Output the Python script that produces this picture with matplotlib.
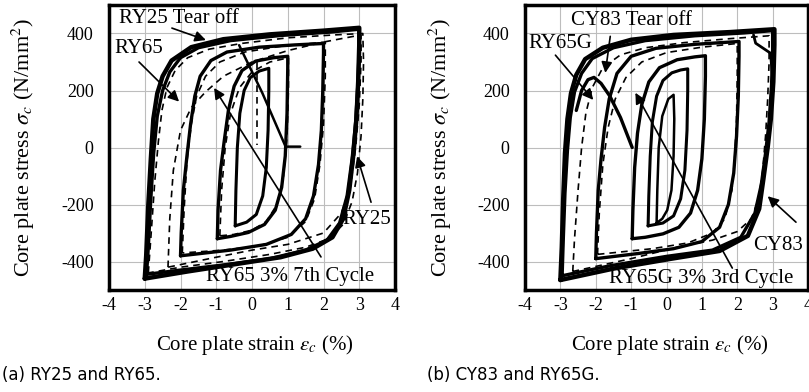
import matplotlib.pyplot as plt

plt.rcParams['font.family'] = ['Liberation Serif', 'DejaVu Serif']
plt.rcParams['mathtext.fontset'] = 'stix'
plt.rcParams['axes.unicode_minus'] = False

# ---------------------------------------------------------------
# (a) RY25 (solid) and RY65 (dashed) loops, strain % / stress N/mm2
# ---------------------------------------------------------------
ry25_3_x = [-3.0, -2.96, -2.9, -2.83, -2.76, -2.65, -2.5, -2.25, -1.7, -0.8, 0.5, 2.0, 3.0,
            3.0, 2.97, 2.92, 2.84, 2.72, 2.55, 2.25, 1.7, 0.8, -0.5, -1.8, -3.0]
ry25_3_y = [-460, -380, -200, -40, 100, 190, 250, 305, 352, 380, 397, 410, 420,
            360, 230, 100, -20, -150, -250, -315, -355, -385, -410, -435, -460]
ry25_3b_x = [-2.95, -2.9, -2.83, -2.75, -2.65, -2.5, -2.3, -2.0, -1.5, -0.6, 0.8, 2.2, 3.0,
             3.0, 2.96, 2.9, 2.8, 2.66, 2.45, 2.1, 1.5, 0.5, -0.8, -2.0, -2.95]
ry25_3b_y = [-445, -350, -180, -20, 110, 200, 265, 315, 350, 375, 393, 405, 415,
             350, 220, 90, -40, -170, -265, -325, -360, -390, -412, -430, -445]
ry25_2_x = [-2.0, -1.98, -1.92, -1.82, -1.72, -1.6, -1.45, -1.15, -0.7, 0.2, 1.2, 2.0,
            2.0, 1.98, 1.94, 1.86, 1.72, 1.5, 1.1, 0.4, -0.6, -1.3, -2.0]
ry25_2_y = [-380, -300, -150, -30, 80, 180, 250, 305, 335, 352, 360, 365,
            330, 200, 60, -60, -170, -250, -305, -340, -360, -370, -380]
ry25_1_x = [-0.97, -0.95, -0.88, -0.78, -0.66, -0.5, -0.28, 0.1, 0.6, 1.0,
            1.0, 0.98, 0.93, 0.83, 0.65, 0.35, -0.1, -0.6, -0.97]
ry25_1_y = [-320, -220, -80, 20, 130, 215, 270, 303, 315, 320,
            280, 120, -30, -140, -220, -270, -298, -312, -320]
ry25_05_x = [-0.47, -0.45, -0.41, -0.34, -0.22, -0.05, 0.2, 0.47,
             0.47, 0.45, 0.4, 0.3, 0.12, -0.15, -0.47]
ry25_05_y = [-275, -150, 0, 120, 200, 245, 268, 278,
             200, 60, -70, -170, -235, -262, -275]
ry25_tear_x = [-0.36, 0.29, 0.94, 1.35]
ry25_tear_y = [359, 191, 3, 3]

ry65_3_x = [-2.9, -2.82, -2.72, -2.62, -2.52, -2.38, -2.15, -1.8, -1.2, -0.3, 1.0, 2.3, 3.1,
            3.12, 3.1, 3.05, 2.95, 2.8, 2.55, 2.15, 1.5, 0.5, -0.8, -2.0, -2.9]
ry65_3_y = [-440, -300, -120, 20, 130, 210, 270, 315, 345, 365, 385, 395, 400,
            300, 170, 40, -90, -190, -270, -320, -350, -375, -400, -420, -440]
ry65_7_x = [-2.35, -2.3, -2.2, -2.0, -1.7, -1.3, -0.8, 0.0, 1.0, 2.0, 3.05,
            3.05, 3.0, 2.9, 2.75, 2.5, 2.0, 1.0, 0.0, -1.0, -2.35]
ry65_7_y = [-420, -250, -80, 60, 140, 195, 250, 300, 340, 370, 395,
            300, 150, 0, -140, -230, -300, -340, -360, -385, -420]
ry65_2_x = [-1.95, -1.9, -1.82, -1.7, -1.55, -1.3, -0.9, -0.2, 0.8, 2.05,
            2.05, 2.0, 1.9, 1.75, 1.5, 1.0, 0.2, -0.8, -1.95]
ry65_2_y = [-370, -220, -50, 80, 180, 250, 300, 335, 355, 370,
            250, 80, -60, -180, -260, -315, -345, -360, -370]
ry65_1_x = [-0.9, -0.85, -0.75, -0.6, -0.35, 0.0, 0.5, 1.02,
            1.02, 0.98, 0.88, 0.7, 0.4, 0.0, -0.5, -0.9]
ry65_1_y = [-310, -150, 0, 120, 210, 265, 300, 315,
            200, 40, -100, -200, -260, -290, -305, -310]
ry65_drop_x = [0.13, 0.13]
ry65_drop_y = [300, 10]

# ---------------------------------------------------------------
# (b) CY83 (solid) and RY65G (dashed) loops
# ---------------------------------------------------------------
cy83_3_x = [-3.0, -2.96, -2.92, -2.87, -2.8, -2.7, -2.55, -2.3, -1.8, -1.0, 0.2, 1.8, 3.05,
            3.05, 3.02, 2.95, 2.86, 2.74, 2.62, 2.3, 1.5, 0.1, -1.5, -3.0]
cy83_3_y = [-465, -350, -180, -20, 100, 190, 255, 310, 350, 378, 395, 405, 415,
            360, 230, 100, 0, -110, -215, -310, -363, -391, -425, -465]
cy83_3b_x = [-2.95, -2.92, -2.87, -2.8, -2.72, -2.6, -2.4, -2.1, -1.5, -0.6, 0.8, 2.2, 3.0,
             3.0, 2.97, 2.9, 2.8, 2.68, 2.5, 2.1, 1.3, 0.0, -1.6, -2.95]
cy83_3b_y = [-450, -330, -160, -10, 105, 195, 260, 312, 350, 375, 392, 402, 410,
             340, 220, 90, -20, -130, -230, -315, -360, -382, -415, -450]
cy83_2_x = [-2.0, -1.98, -1.93, -1.85, -1.75, -1.62, -1.4, -1.0, -0.3, 0.8, 2.05,
            2.05, 2.03, 1.98, 1.9, 1.75, 1.5, 1.0, 0.2, -0.8, -2.0]
cy83_2_y = [-390, -300, -150, -40, 70, 170, 260, 320, 348, 362, 372,
            320, 180, 40, -90, -200, -280, -330, -355, -372, -390]
cy83_1_x = [-0.97, -0.95, -0.9, -0.82, -0.7, -0.5, -0.2, 0.3, 0.8, 1.1,
            1.1, 1.07, 1.0, 0.88, 0.68, 0.35, -0.1, -0.6, -0.97]
cy83_1_y = [-320, -220, -70, 50, 150, 230, 280, 308, 318, 322,
            250, 100, -40, -150, -230, -280, -303, -315, -320]
cy83_05_x = [-0.52, -0.5, -0.46, -0.4, -0.28, -0.1, 0.15, 0.4, 0.6,
             0.6, 0.58, 0.52, 0.4, 0.2, -0.1, -0.52]
cy83_05_y = [-275, -170, -30, 90, 180, 235, 262, 272, 276,
             200, 60, -80, -180, -240, -265, -275]
cy83_02_x = [-0.28, -0.26, -0.22, -0.12, 0.05, 0.2, 0.22, 0.2, 0.14, 0.02, -0.12, -0.28]
cy83_02_y = [-265, -150, 0, 110, 170, 185, 100, -30, -150, -220, -250, -265]
cy83_corner_x = [2.46, 2.52, 2.94, 3.03]
cy83_corner_y = [395, 366, 331, 200]

ry65g_3_x = [-2.65, -2.6, -2.5, -2.4, -2.28, -2.1, -1.8, -1.3, -0.6, 0.5, 1.8, 2.9,
             2.9, 2.86, 2.8, 2.72, 2.6, 2.4, 2.0, 1.3, 0.3, -1.0, -2.65]
ry65g_3_y = [-435, -320, -150, 0, 120, 210, 280, 325, 350, 368, 382, 392,
             300, 170, 40, -80, -180, -250, -295, -325, -350, -390, -435]
ry65g_2_x = [-1.95, -1.9, -1.8, -1.65, -1.45, -1.15, -0.7, 0.0, 1.0, 2.0,
             2.0, 1.98, 1.93, 1.85, 1.65, 1.3, 0.6, -0.4, -1.95]
ry65g_2_y = [-375, -230, -60, 70, 170, 245, 300, 333, 352, 365,
             250, 100, -30, -150, -250, -300, -335, -355, -375]
ry65g_tear_x = [-2.55, -2.4, -2.22, -2.05, -1.85, -1.6, -1.3, -0.97]
ry65g_tear_y = [130, 200, 238, 246, 225, 180, 105, 0]

x_ticks = [-4, -3, -2, -1, 0, 1, 2, 3, 4]
x_tick_labels = ['-4', '-3', '-2', '-1', '0', '1', '2', '3', '4']
y_ticks = [-400, -200, 0, 200, 400]
y_tick_labels = ['-400', '-200', '0', '200', '400']

W, H = 809, 392
fig = plt.figure(figsize=(W / 100, H / 100), dpi=100)
ax_a = fig.add_axes([109 / W, 1 - 290 / H, 286 / W, 285 / H])
ax_b = fig.add_axes([525 / W, 1 - 290 / H, 283 / W, 285 / H])

for ax, ylab_x in ((ax_a, -0.253), (ax_b, -0.25)):
    ax.set_xlim(-4, 4)
    ax.set_ylim(-500, 500)
    ax.set_xticks(x_ticks)
    ax.set_xticklabels(x_tick_labels, family='Liberation Serif')
    ax.set_yticks(y_ticks)
    ax.set_yticklabels(y_tick_labels, family='Liberation Serif')
    ax.grid(True, color='#bdbdbd', lw=0.8)
    ax.set_axisbelow(True)
    ax.tick_params(length=0, labelsize=13)
    ax.tick_params(axis='x', pad=5)
    ax.tick_params(axis='y', pad=11)
    for sp in ax.spines.values():
        sp.set_linewidth(2.5)
    ax.set_xlabel(r'Core plate strain $\varepsilon_c$ (%)', fontsize=15)
    ax.set_ylabel(r'Core plate stress $\sigma_c$ (N/mm$^2$)', fontsize=16)
    ax.xaxis.set_label_coords(0.51, -0.152)
    ax.yaxis.set_label_coords(ylab_x, 0.5)

solid = dict(color='black', solid_joinstyle='round', solid_capstyle='round')
dashed = dict(color='black', lw=1.2, dashes=(4, 3))
arrow = dict(arrowstyle='-|>', color='black', lw=1.2, mutation_scale=16,
             shrinkA=0, shrinkB=0)

# ---- panel (a)
ax_a.plot(ry65_3_x, ry65_3_y, **dashed)
ax_a.plot(ry65_7_x, ry65_7_y, **dashed)
ax_a.plot(ry65_2_x, ry65_2_y, **dashed)
ax_a.plot(ry65_1_x, ry65_1_y, **dashed)
ax_a.plot(ry65_drop_x, ry65_drop_y, **dashed)
ax_a.plot(ry25_3_x, ry25_3_y, lw=3.2, **solid)
ax_a.plot(ry25_3b_x, ry25_3b_y, lw=2.4, **solid)
ax_a.plot(ry25_2_x, ry25_2_y, lw=2.4, **solid)
ax_a.plot(ry25_1_x, ry25_1_y, lw=2.4, **solid)
ax_a.plot(ry25_05_x, ry25_05_y, lw=2.2, **solid)
ax_a.plot(ry25_tear_x, ry25_tear_y, lw=1.8, **solid)

ax_a.text(-3.72, 453, 'RY25 Tear off', fontsize=15, va='center')
ax_a.annotate('', xy=(-1.29, 377), xytext=(-2.24, 419), arrowprops=arrow)
ax_a.text(-3.86, 349, 'RY65', fontsize=15, va='center')
ax_a.annotate('', xy=(-2.04, 161), xytext=(-3.16, 300), arrowprops=arrow)
ax_a.text(-1.29, -454, 'RY65 3% 7th Cycle', fontsize=15, va='center')
ax_a.annotate('', xy=(-1.06, 209), xytext=(1.93, -384), arrowprops=arrow)
ax_a.text(2.52, -251, 'RY25', fontsize=15, va='center')
ax_a.annotate('', xy=(2.94, -31), xytext=(3.33, -192), arrowprops=arrow)

# ---- panel (b)
ax_b.plot(ry65g_3_x, ry65g_3_y, **dashed)
ax_b.plot(ry65g_2_x, ry65g_2_y, **dashed)
ax_b.plot(cy83_3_x, cy83_3_y, lw=3.2, **solid)
ax_b.plot(cy83_3b_x, cy83_3b_y, lw=2.4, **solid)
ax_b.plot(cy83_2_x, cy83_2_y, lw=2.4, **solid)
ax_b.plot(cy83_1_x, cy83_1_y, lw=2.4, **solid)
ax_b.plot(cy83_05_x, cy83_05_y, lw=2.2, **solid)
ax_b.plot(cy83_02_x, cy83_02_y, lw=1.8, **solid)
ax_b.plot(cy83_corner_x, cy83_corner_y, lw=2.0, **solid)
ax_b.plot(ry65g_tear_x, ry65g_tear_y, lw=2.4, **solid)

ax_b.text(-2.71, 447, 'CY83 Tear off', fontsize=15, va='center')
ax_b.annotate('', xy=(-1.73, 262), xytext=(-1.59, 390), arrowprops=arrow)
ax_b.text(-3.91, 366, 'RY65G', fontsize=15, va='center')
ax_b.annotate('', xy=(-2.07, 167), xytext=(-3.14, 324), arrowprops=arrow)
ax_b.text(-1.63, -460, 'RY65G 3% 3rd Cycle', fontsize=15, va='center')
ax_b.annotate('', xy=(-0.88, 192), xytext=(1.86, -423), arrowprops=arrow)
ax_b.text(2.46, -345, 'CY83', fontsize=15, va='center')
ax_b.annotate('', xy=(2.86, -171), xytext=(3.66, -262), arrowprops=arrow)

fig.text(2 / W, 1 - 380 / H, '(a) RY25 and RY65.', fontsize=12,
         family='DejaVu Sans', va='baseline')
fig.text(427 / W, 1 - 380 / H, '(b) CY83 and RY65G.', fontsize=12,
         family='DejaVu Sans', va='baseline')

fig.savefig('out.png', dpi=100)
